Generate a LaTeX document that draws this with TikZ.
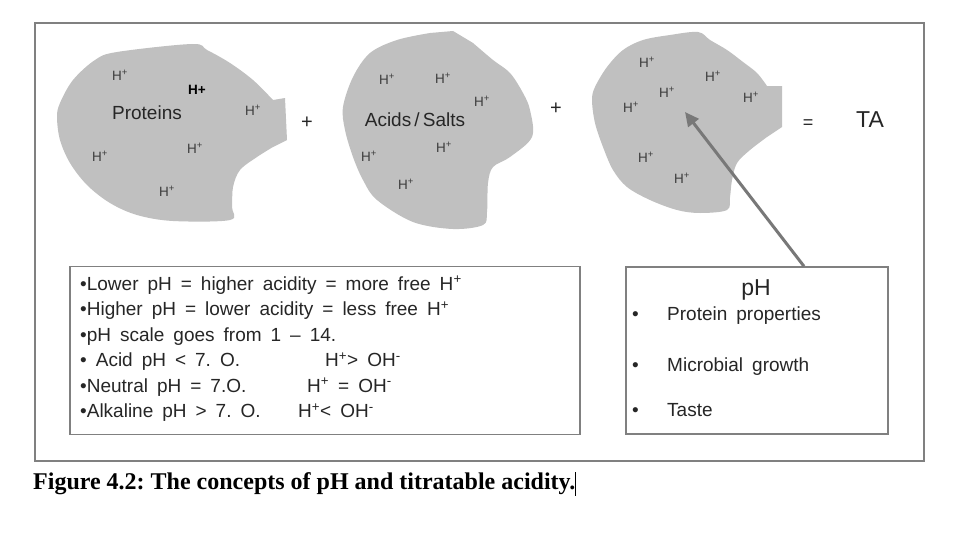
\documentclass[tikz,border=0pt]{standalone}
\usepackage{fontspec}
\setmainfont{Liberation Sans}
\newfontfamily\capfont{Liberation Serif}
\usetikzlibrary{arrows.meta}
\definecolor{blobgray}{RGB}{192,192,192}
\definecolor{txtgray}{RGB}{60,60,60}
\definecolor{linegray}{RGB}{128,128,128}
\definecolor{arrgray}{RGB}{120,120,120}
\frenchspacing
\newcommand\Hp{H\textsuperscript{+}}
\newcommand\Hm{\textsuperscript{-}}
\newcommand\bodyfont{\fontsize{19}{19}\selectfont\spaceskip=9pt plus 1pt\relax}
\begin{document}
\begin{tikzpicture}[x=1pt,y=-1pt,
  blob/.style={fill=blobgray},
  hplus/.style={font=\fontsize{13.5}{13.5}\selectfont, text=txtgray, inner sep=0pt},
  blobname/.style={font=\fontsize{19}{19}\selectfont, text=black!85, inner sep=0pt},
  opsign/.style={font=\fontsize{20}{20}\selectfont, text=black!85, inner sep=0pt},
  frame/.style={draw=linegray, line width=2pt},
  textbox/.style={draw=linegray, line width=1.4pt, rectangle, inner sep=0pt},
  bline/.style={font=\bodyfont, text=black!85, anchor=base west, inner sep=0pt},
  arr/.style={draw=arrgray, line width=3pt, -{Triangle[length=14pt,width=13pt]}}]
\useasboundingbox (0,0) rectangle (963,535);
\fill[white] (0,0) rectangle (963,535);
% outer frame
\draw[frame] (35,23) rectangle (924,461);
% blob 1
\fill[blob] (285,98) -- (287,140) -- plot[smooth, tension=0.55] coordinates {(273,147) (257,157) (240,170) (233,187) (232,207) (230,220) (173,221) (137,215) (110,203) (87,185) (70,163) (60,140) (57,117) (60,103) (73,80) (95,60) (117,52) (192,44) (207,50) (230,63) (253,80) (273,100)} -- cycle;
% blob 2
\fill[blob] (453,31) -- plot[smooth, tension=0.55] coordinates {(473,43) (493,60) (510,73) (523,93) (530,110) (532,137) (510,157) (493,167) (488,183) (487,212) (483,225) (453,229) (413,222) (377,200) (363,180) (353,157) (345,130) (343,107) (353,77) (370,53) (397,40) (430,33)} -- cycle;
% blob 3
\fill[blob] (782,86) -- (782,127) -- plot[smooth, tension=0.55] coordinates {(767,137) (750,150) (737,163) (732,180) (730,197) (727,210) (700,213) (677,210) (650,200) (627,187) (613,170) (603,147) (595,123) (592,100) (595,87) (607,67) (623,50) (643,40) (670,35) (698,32) (710,40) (727,50) (743,62) (757,73) (767,86)} -- cycle;
% blob 1 texts
\node[hplus] (h11) at (120,75) {\Hp};
\node[hplus, text=black] (h12) at (197,90) {\textbf{H+}};
\node[blobname] (proteins) at (147,113) {Proteins};
\node[hplus] (h13) at (253,110) {\Hp};
\node[hplus] (h14) at (100,156) {\Hp};
\node[hplus] (h15) at (195,148) {\Hp};
\node[hplus] (h16) at (167,191) {\Hp};
\node[opsign] (plus1) at (307,123) {+};
% blob 2 texts
\node[hplus] (h21) at (387,79) {\Hp};
\node[hplus] (h22) at (443,78) {\Hp};
\node[hplus] (h23) at (482,101) {\Hp};
\node[blobname] (acids) at (415,120) {Acids\,/\,Salts};
\node[hplus] (h24) at (369,156) {\Hp};
\node[hplus] (h25) at (444,147) {\Hp};
\node[hplus] (h26) at (406,184) {\Hp};
\node[opsign] (plus2) at (556,109) {+};
% blob 3 texts
\node[hplus] (h31) at (647,62) {\Hp};
\node[hplus] (h32) at (713,76) {\Hp};
\node[hplus] (h33) at (667,92) {\Hp};
\node[hplus] (h34) at (751,97) {\Hp};
\node[hplus] (h35) at (631,107) {\Hp};
\node[hplus] (h36) at (646,157) {\Hp};
\node[hplus] (h37) at (682,178) {\Hp};
\node[opsign, font=\fontsize{18}{18}\selectfont] (eq) at (808,124) {=};
\node[inner sep=0pt, font=\fontsize{23}{23}\selectfont, text=black!85] (ta) at (870,120) {TA};
% left text box
\node[textbox, minimum width=510pt, minimum height=168pt] (leftbox) at (325,350.5) {};
\node[bline] (l1) at (80,290) {\textbullet Lower pH = higher acidity = more free \Hp};
\node[bline] (l2) at (80,315.5) {\textbullet Higher pH = lower acidity = less free \Hp};
\node[bline] (l3) at (80,341) {\textbullet pH scale goes from 1 -- 14.};
\node[bline] (l4) at (80,366.5) {\textbullet\ Acid pH < 7. O.};
\node[bline] (l4b) at (325,366.5) {\Hp> OH\Hm};
\node[bline] (l5) at (80,392) {\textbullet Neutral pH = 7.O.};
\node[bline] (l5b) at (307,392) {\Hp\ = OH\Hm};
\node[bline] (l6) at (80,417.5) {\textbullet Alkaline pH > 7. O.};
\node[bline] (l6b) at (298,417.5) {\Hp< OH\Hm};
% right pH box
\node[textbox, minimum width=262pt, minimum height=167pt] (phbox) at (757,350.5) {};
\node[inner sep=0pt, anchor=base, font=\fontsize{23}{23}\selectfont, text=black!85] (phtitle) at (756,295) {pH};
\node[bline] (b1) at (632,320) {\textbullet};
\node[bline] (r1) at (667,320) {Protein properties};
\node[bline] (b2) at (632,371) {\textbullet};
\node[bline] (r2) at (667,371) {Microbial growth};
\node[bline] (b3) at (632,416.5) {\textbullet};
\node[bline] (r3) at (667,416.5) {Taste};
% arrow
\coordinate (arrowfoot) at ([xshift=47pt]phbox.north);
\coordinate (arrowtip) at (685,112);
\draw[arr] (arrowfoot) -- (arrowtip);
% caption
\node[inner sep=0pt, anchor=base west, font=\capfont\bfseries\fontsize{24}{24}\selectfont] (caption) at (33,489) {Figure 4.2: The concepts of pH and titratable acidity.};
\coordinate (cur1) at (575,472);
\coordinate (cur2) at (575,496);
\draw[line width=0.8pt] (cur1) -- (cur2);
\end{tikzpicture}
\end{document}
